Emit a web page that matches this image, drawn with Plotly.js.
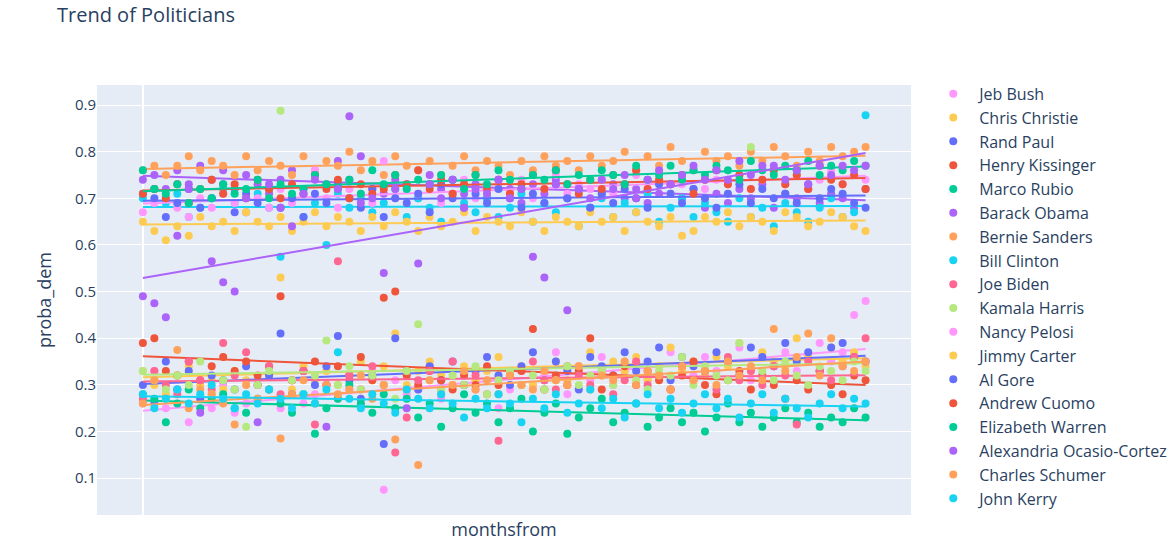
<!DOCTYPE html>
<html>
<head>
<meta charset="utf-8">
<script src="https://cdn.plot.ly/plotly-3.0.1.min.js"></script>
<style>
  body { margin: 0; }
  #myPlot { width: 1173px; height: 553px; }
</style>
</head>
<body>
<div id="myPlot"></div>
<script>
const monthsfrom = [0,1,2,3,4,5,6,7,8,9,10,11,12,13,14,15,16,17,18,19,20,21,22,23,24,25,26,27,28,29,30,31,
  32,33,34,35,36,37,38,39,40,41,42,43,44,45,46,47,48,49,50,51,52,53,54,55,56,57,58,59,60,61,62,63];

const names = ["Jeb Bush","Chris Christie","Rand Paul","Henry Kissinger","Marco Rubio","Barack Obama",
  "Bernie Sanders","Bill Clinton","Joe Biden","Kamala Harris","Nancy Pelosi","Jimmy Carter","Al Gore",
  "Andrew Cuomo","Elizabeth Warren","Alexandria Ocasio-Cortez","Charles Schumer","John Kerry"];

const colors = ["#FF97FF","#FECB52","#636EFA","#EF553B","#00CC96","#AB63FA","#FFA15A","#19D3F3","#FF6692",
  "#B6E880","#FF97FF","#FECB52","#636EFA","#EF553B","#00CC96","#AB63FA","#FFA15A","#19D3F3"];

const jebBush = [0.26,0.33,0.25,0.29,0.22,0.27,0.25,0.30,0.24,0.26,
  0.27,0.29,0.25,0.31,0.26,0.28,0.30,0.27,0.29,0.26,
  0.33,0.075,0.31,0.28,0.29,0.34,0.27,0.30,0.33,0.29,
  0.31,0.25,0.29,0.33,0.30,0.32,0.37,0.28,0.34,0.31,
  0.36,0.30,0.33,0.35,0.31,0.32,0.37,0.34,0.32,0.36,
  0.33,0.35,0.38,0.31,0.36,0.34,0.37,0.33,0.36,0.39,
  0.35,0.37,0.45,0.48];
const chrisChristie = [0.33,0.30,0.28,0.32,0.34,0.30,0.31,0.29,0.33,0.31,
  0.30,0.32,0.53,0.29,0.34,0.31,0.33,0.30,0.32,0.35,
  0.31,0.34,0.41,0.30,0.33,0.35,0.32,0.30,0.34,0.31,
  0.33,0.36,0.32,0.34,0.30,0.33,0.35,0.31,0.34,0.37,
  0.32,0.35,0.33,0.36,0.31,0.34,0.38,0.33,0.35,0.32,
  0.36,0.34,0.39,0.33,0.37,0.35,0.34,0.40,0.36,0.33,
  0.38,0.35,0.37,0.34];
const randPaul = [0.30,0.26,0.35,0.29,0.33,0.27,0.32,0.31,0.29,0.34,
  0.30,0.32,0.41,0.28,0.33,0.30,0.34,0.405,0.31,0.27,
  0.32,0.173,0.40,0.33,0.29,0.34,0.31,0.35,0.30,0.33,
  0.36,0.32,0.30,0.34,0.37,0.31,0.35,0.33,0.29,0.36,
  0.34,0.32,0.37,0.33,0.35,0.38,0.31,0.36,0.34,0.33,
  0.37,0.35,0.32,0.38,0.36,0.34,0.39,0.35,0.37,0.33,
  0.38,0.39,0.36,0.35];
const henryKissinger = [0.39,0.40,0.33,0.32,0.35,0.31,0.34,0.36,0.33,0.35,
  0.32,0.34,0.49,0.31,0.33,0.35,0.30,0.34,0.32,0.36,
  0.31,0.487,0.50,0.32,0.30,0.33,0.31,0.29,0.32,0.30,
  0.34,0.30,0.32,0.33,0.42,0.29,0.32,0.30,0.33,0.40,
  0.29,0.32,0.34,0.30,0.33,0.31,0.29,0.32,0.35,0.30,
  0.28,0.31,0.33,0.29,0.32,0.30,0.27,0.31,0.29,0.33,
  0.30,0.28,0.32,0.31];
const marcoRubio = [0.28,0.27,0.22,0.26,0.29,0.25,0.27,0.28,0.25,0.24,
  0.27,0.29,0.26,0.24,0.28,0.195,0.25,0.27,0.30,0.26,
  0.24,0.28,0.25,0.27,0.23,0.26,0.21,0.25,0.28,0.24,
  0.26,0.22,0.25,0.27,0.20,0.24,0.26,0.195,0.23,0.25,
  0.27,0.22,0.24,0.26,0.21,0.23,0.25,0.22,0.24,0.20,
  0.23,0.26,0.22,0.24,0.21,0.23,0.25,0.22,0.24,0.21,
  0.23,0.22,0.25,0.23];
const barackObama = [0.74,0.75,0.72,0.76,0.73,0.77,0.74,0.76,0.72,0.75,
  0.73,0.71,0.74,0.76,0.72,0.75,0.73,0.78,0.74,0.79,
  0.72,0.71,0.74,0.73,0.70,0.75,0.72,0.74,0.71,0.73,
  0.70,0.74,0.72,0.69,0.73,0.71,0.74,0.70,0.72,0.68,
  0.71,0.73,0.70,0.72,0.69,0.71,0.73,0.70,0.72,0.68,
  0.71,0.69,0.72,0.70,0.73,0.68,0.71,0.70,0.72,0.69,
  0.71,0.70,0.68,0.72];
const bernieSanders = [0.76,0.77,0.75,0.77,0.79,0.76,0.78,0.77,0.75,0.79,
  0.76,0.78,0.77,0.75,0.79,0.76,0.78,0.77,0.80,0.76,
  0.78,0.75,0.79,0.77,0.76,0.78,0.75,0.77,0.79,0.76,
  0.78,0.77,0.75,0.78,0.76,0.79,0.77,0.78,0.76,0.79,
  0.77,0.78,0.80,0.76,0.79,0.77,0.81,0.78,0.76,0.80,
  0.78,0.79,0.77,0.80,0.78,0.81,0.79,0.77,0.80,0.78,
  0.81,0.79,0.80,0.81];
const billClinton = [0.70,0.72,0.69,0.71,0.66,0.68,0.70,0.72,0.69,0.67,
  0.71,0.68,0.575,0.70,0.66,0.69,0.60,0.71,0.68,0.70,
  0.67,0.69,0.72,0.66,0.70,0.68,0.65,0.71,0.69,0.67,
  0.70,0.66,0.68,0.71,0.65,0.69,0.67,0.70,0.64,0.68,
  0.70,0.66,0.69,0.67,0.71,0.65,0.68,0.70,0.66,0.69,
  0.67,0.65,0.70,0.66,0.68,0.64,0.69,0.67,0.65,0.68,
  0.70,0.66,0.67,0.878];
const joeBiden = [0.27,0.33,0.30,0.28,0.35,0.31,0.29,0.39,0.32,0.37,
  0.30,0.34,0.28,0.31,0.33,0.215,0.30,0.565,0.32,0.29,
  0.34,0.30,0.155,0.23,0.31,0.33,0.29,0.35,0.30,0.32,
  0.28,0.18,0.33,0.30,0.35,0.31,0.29,0.34,0.32,0.30,
  0.33,0.28,0.31,0.35,0.30,0.32,0.29,0.34,0.31,0.33,
  0.29,0.36,0.31,0.33,0.30,0.34,0.32,0.215,0.35,0.33,
  0.31,0.34,0.36,0.40];
const kamalaHarris = [0.33,0.31,0.29,0.32,0.30,0.35,0.28,0.31,0.29,0.21,
  0.30,0.33,0.888,0.31,0.28,0.32,0.395,0.30,0.34,0.29,
  0.32,0.30,0.27,0.33,0.43,0.31,0.29,0.32,0.30,0.34,
  0.28,0.31,0.33,0.30,0.32,0.29,0.31,0.34,0.30,0.32,
  0.33,0.30,0.35,0.31,0.29,0.33,0.32,0.36,0.30,0.34,
  0.32,0.31,0.39,0.81,0.33,0.31,0.35,0.32,0.30,0.34,
  0.33,0.31,0.35,0.33];
const nancyPelosi = [0.67,0.69,0.70,0.68,0.66,0.70,0.68,0.71,0.69,0.67,
  0.70,0.68,0.72,0.69,0.71,0.76,0.70,0.68,0.72,0.71,
  0.69,0.78,0.70,0.72,0.71,0.73,0.69,0.71,0.74,0.70,
  0.72,0.73,0.71,0.74,0.70,0.72,0.75,0.71,0.73,0.72,
  0.74,0.71,0.73,0.75,0.72,0.74,0.71,0.73,0.76,0.72,
  0.74,0.73,0.75,0.72,0.74,0.76,0.73,0.75,0.72,0.74,
  0.76,0.73,0.75,0.74];
const jimmyCarter = [0.65,0.63,0.61,0.64,0.62,0.66,0.64,0.65,0.63,0.67,
  0.65,0.64,0.66,0.63,0.65,0.67,0.64,0.66,0.65,0.63,
  0.66,0.64,0.67,0.65,0.63,0.66,0.64,0.65,0.67,0.63,
  0.66,0.65,0.64,0.67,0.65,0.63,0.66,0.65,0.64,0.67,
  0.65,0.66,0.63,0.67,0.65,0.64,0.66,0.62,0.63,0.66,
  0.65,0.67,0.64,0.66,0.65,0.63,0.67,0.66,0.64,0.65,
  0.67,0.66,0.64,0.63];
const alGore = [0.71,0.70,0.66,0.69,0.72,0.68,0.70,0.73,0.67,0.71,
  0.69,0.72,0.68,0.70,0.66,0.71,0.69,0.73,0.70,0.68,
  0.72,0.66,0.70,0.69,0.71,0.67,0.73,0.70,0.68,0.71,
  0.69,0.72,0.70,0.68,0.71,0.69,0.73,0.70,0.72,0.68,
  0.71,0.69,0.72,0.70,0.68,0.73,0.71,0.69,0.72,0.70,
  0.68,0.71,0.73,0.69,0.72,0.70,0.71,0.69,0.73,0.70,
  0.72,0.71,0.69,0.68];
const andrewCuomo = [0.71,0.72,0.70,0.73,0.69,0.72,0.74,0.71,0.73,0.70,
  0.74,0.72,0.70,0.73,0.71,0.75,0.72,0.74,0.70,0.73,
  0.71,0.72,0.75,0.73,0.76,0.72,0.74,0.71,0.73,0.75,
  0.72,0.74,0.71,0.73,0.75,0.72,0.76,0.73,0.71,0.74,
  0.72,0.75,0.73,0.76,0.72,0.74,0.73,0.75,0.71,0.74,
  0.76,0.73,0.75,0.72,0.74,0.76,0.73,0.75,0.72,0.77,
  0.74,0.73,0.75,0.72];
const elizabethWarren = [0.76,0.72,0.71,0.73,0.69,0.72,0.70,0.73,0.71,0.72,
  0.74,0.70,0.73,0.71,0.72,0.75,0.73,0.72,0.74,0.71,
  0.76,0.73,0.75,0.72,0.74,0.73,0.75,0.74,0.72,0.75,
  0.73,0.76,0.74,0.72,0.75,0.74,0.76,0.73,0.75,0.74,
  0.76,0.75,0.73,0.77,0.74,0.75,0.77,0.74,0.76,0.75,
  0.77,0.76,0.74,0.78,0.76,0.75,0.77,0.76,0.78,0.75,
  0.77,0.76,0.78,0.77];
const ocasioCortez = [0.49,0.475,0.445,0.62,0.72,0.24,0.565,0.52,0.50,0.70,
  0.22,0.73,0.68,0.64,0.71,0.74,0.21,0.72,0.876,0.69,
  0.70,0.54,0.72,0.25,0.56,0.73,0.70,0.74,0.68,0.72,
  0.71,0.74,0.70,0.72,0.575,0.53,0.73,0.46,0.72,0.70,
  0.74,0.72,0.75,0.70,0.74,0.76,0.73,0.75,0.77,0.74,
  0.76,0.74,0.78,0.75,0.77,0.77,0.74,0.76,0.73,0.77,
  0.75,0.77,0.76,0.77];
const charlesSchumer = [0.26,0.31,0.27,0.375,0.25,0.29,0.28,0.26,0.215,0.30,
  0.27,0.29,0.185,0.28,0.31,0.26,0.30,0.28,0.29,0.32,
  0.27,0.30,0.183,0.29,0.128,0.31,0.28,0.30,0.33,0.29,
  0.31,0.28,0.32,0.30,0.29,0.33,0.31,0.30,0.34,0.29,
  0.32,0.31,0.35,0.30,0.33,0.32,0.29,0.34,0.31,0.33,
  0.30,0.35,0.32,0.34,0.31,0.42,0.33,0.36,0.41,0.32,
  0.40,0.34,0.33,0.35];
const johnKerry = [0.28,0.25,0.27,0.29,0.26,0.28,0.30,0.27,0.25,0.28,
  0.26,0.29,0.27,0.25,0.28,0.26,0.29,0.37,0.27,0.25,
  0.28,0.26,0.24,0.29,0.27,0.25,0.28,0.26,0.23,0.27,
  0.25,0.28,0.26,0.22,0.27,0.25,0.28,0.24,0.26,0.29,
  0.25,0.27,0.23,0.26,0.28,0.25,0.27,0.24,0.26,0.28,
  0.25,0.27,0.23,0.26,0.28,0.24,0.27,0.25,0.23,0.26,
  0.28,0.25,0.27,0.26];

const series = [jebBush, chrisChristie, randPaul, henryKissinger, marcoRubio, barackObama,
  bernieSanders, billClinton, joeBiden, kamalaHarris, nancyPelosi, jimmyCarter, alGore,
  andrewCuomo, elizabethWarren, ocasioCortez, charlesSchumer, johnKerry];

// ordinary least squares, like px trendline="ols"
function ols(x, y) {
  let n = x.length, mx = 0, my = 0;
  for (let i = 0; i < n; i++) { mx += x[i]; my += y[i]; }
  mx /= n; my /= n;
  let sxy = 0, sxx = 0;
  for (let i = 0; i < n; i++) {
    sxy += (x[i] - mx) * (y[i] - my);
    sxx += (x[i] - mx) * (x[i] - mx);
  }
  let b = sxy / sxx;
  let a = my - b * mx;
  return x.map(v => a + b * v);
}

let data = [];
for (let i = 0; i < series.length; i++) {
  data.push({
    x: monthsfrom,
    y: series[i],
    name: names[i],
    mode: 'markers',
    type: 'scatter',
    marker: {color: colors[i], size: 8},
    legendgroup: names[i]
  });
  data.push({
    x: monthsfrom,
    y: ols(monthsfrom, series[i]),
    name: names[i],
    mode: 'lines',
    type: 'scatter',
    line: {color: colors[i], width: 2},
    legendgroup: names[i],
    showlegend: false
  });
}

var layout = {
  width: 1173,
  height: 553,
  font: {family: '"Open Sans", verdana, arial, sans-serif', size: 15, color: '#2a3f5f'},
  title: {
    text: 'Trend of Politicians',
    font: {size: 20},
    x: 0.0486, xanchor: 'left',
    y: 0.973, yanchor: 'middle'
  },
  paper_bgcolor: '#ffffff',
  plot_bgcolor: '#E5ECF6',
  margin: {l: 97, r: 262, t: 85, b: 38, autoexpand: false},
  xaxis: {
    title: {text: 'monthsfrom', standoff: 8},
    range: [-4.0, 66.96],
    showticklabels: false,
    ticks: '',
    showgrid: false,
    zeroline: true,
    zerolinecolor: '#ffffff',
    zerolinewidth: 2
  },
  yaxis: {
    title: {text: 'proba_dem'},
    range: [0.021, 0.943],
    dtick: 0.1,
    tick0: 0,
    gridcolor: '#ffffff',
    zeroline: false
  },
  legend: {x: 1.02, y: 1.019, yanchor: 'top', font: {size: 16}, itemwidth: 42,
    tracegroupgap: 0, maxheight: 1},
  showlegend: true
};

Plotly.newPlot("myPlot", data, layout, {displayModeBar: false});
</script>
</body>
</html>
